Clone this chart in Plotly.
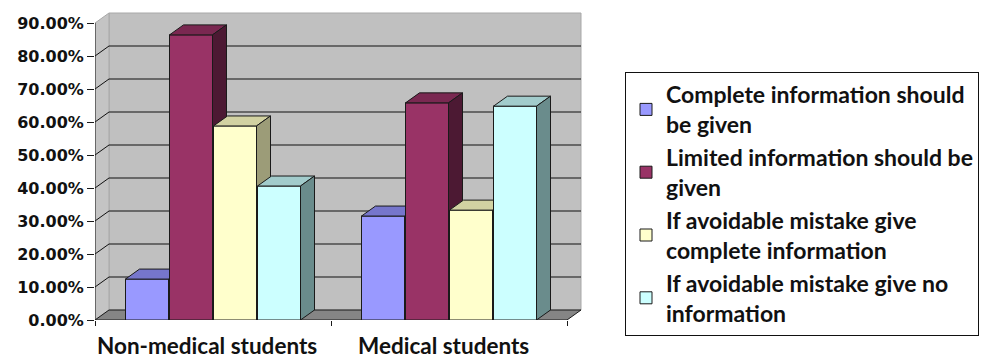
import plotly.graph_objects as go

# ---------------- data ----------------
categories = ["Non-medical students", "Medical students"]
series_names = [
    "Complete information should<br>be given",
    "Limited information should be<br>given",
    "If avoidable mistake give<br>complete information",
    "If avoidable mistake give no<br>information",
]
complete_info = [12.4, 31.5]
limited_info = [86.4, 65.8]
avoidable_complete = [58.8, 33.3]
avoidable_none = [40.6, 64.8]
tick_values = [0, 10, 20, 30, 40, 50, 60, 70, 80, 90]
tick_labels = ["0.00%", "10.00%", "20.00%", "30.00%", "40.00%",
               "50.00%", "60.00%", "70.00%", "80.00%", "90.00%"]

series_values = [complete_info, limited_info, avoidable_complete, avoidable_none]

# ---------------- styling ----------------
front_colors = ["#9999FF", "#993366", "#FFFFCC", "#CCFFFF"]
top_colors = ["#7676CC", "#7A2851", "#D2D2A2", "#A2CCCC"]
side_colors = ["#5C5C99", "#4C1933", "#9C9C78", "#6A8C8C"]
edge = "#1a1a1a"

W, H = 985, 358
ML, MT, MB = 95, 12, 38
PX_CAT = 236.0          # pixels per category on the front plane
PX_PCT = 297.0 / 90.0   # pixels per percent
PLOT_W = 491
MR = W - ML - PLOT_W
PLOT_H = H - MT - MB

DX = 14.0 / PX_CAT      # depth offset (x units)
DY = 10.0 / PX_PCT      # depth offset (y units)
BAR_W = 43.0 / PX_CAT
BAR_STEP = 44.0 / PX_CAT
N_CAT = len(categories)
YMAX = tick_values[-1]

x_range = [0, PLOT_W / PX_CAT]
y_range = [0, PLOT_H / PX_PCT]
cat_pos = [c + 0.5 for c in range(N_CAT)]

fig = go.Figure()

# Legend / base bars (front faces) - real bar traces
for i, (name, vals) in enumerate(zip(series_names, series_values)):
    fig.add_trace(go.Bar(
        x=cat_pos, y=vals, width=BAR_W,
        offset=(i - 1.5) * BAR_STEP - BAR_W / 2,
        name=name, legendgroup=f"g{i}",
        marker=dict(color=front_colors[i], line=dict(color=edge, width=1)),
        hoverinfo="skip",
    ))

# 3D faces, drawn in painter's order (left to right)
def poly(xs, ys, color):
    fig.add_trace(go.Scatter(
        x=xs + [xs[0]], y=ys + [ys[0]], mode="lines", fill="toself",
        fillcolor=color, line=dict(color=edge, width=1),
        showlegend=False, hoverinfo="skip",
    ))

for c in range(N_CAT):
    for i, vals in enumerate(series_values):
        v = vals[c]
        x0 = cat_pos[c] + (i - 1.5) * BAR_STEP - BAR_W / 2
        x1 = x0 + BAR_W
        poly([x0, x1, x1, x0], [0, 0, v, v], front_colors[i])
        poly([x0, x1, x1 + DX, x0 + DX], [v, v, v + DY, v + DY], top_colors[i])
        poly([x1, x1 + DX, x1 + DX, x1], [0, DY, v + DY, v], side_colors[i])

# walls, floor, gridlines as shapes below traces
xe = float(N_CAT)
shapes = []
shapes.append(dict(type="path", layer="below", xref="x", yref="y",
                   path=f"M{DX},{DY} L{xe + DX},{DY} L{xe + DX},{YMAX + DY} L{DX},{YMAX + DY} Z",
                   fillcolor="#C0C0C0", line=dict(color="#A8A8A8", width=1)))
shapes.append(dict(type="path", layer="below", xref="x", yref="y",
                   path=f"M0,0 L0,{YMAX} L{DX},{YMAX + DY} L{DX},{DY} Z",
                   fillcolor="#C4C4C4", line=dict(color="#A8A8A8", width=1)))
shapes.append(dict(type="path", layer="below", xref="x", yref="y",
                   path=f"M0,0 L{xe},0 L{xe + DX},{DY} L{DX},{DY} Z",
                   fillcolor="#858585", line=dict(color=edge, width=1)))
for v in tick_values[1:-1]:
    shapes.append(dict(type="path", layer="below", xref="x", yref="y",
                       path=f"M0,{v} L{DX},{v + DY} L{xe + DX},{v + DY}",
                       line=dict(color="#111111", width=1)))
shapes.append(dict(type="line", layer="below", xref="x", yref="y",
                   x0=0, y0=0, x1=0, y1=YMAX, line=dict(color=edge, width=1)))

annotations = []
for c, name in enumerate(categories):
    annotations.append(dict(
        x=cat_pos[c], y=-25.5 / PLOT_H, xref="x", yref="paper", xshift=-6,
        text=name, showarrow=False, xanchor="center", yanchor="middle",
        font=dict(family="Lato", size=22.5, color="#111111", weight="bold"),
    ))

fig.update_layout(
    width=W, height=H,
    margin=dict(l=ML, r=MR, t=MT, b=MB, autoexpand=False),
    paper_bgcolor="white", plot_bgcolor="white",
    barmode="overlay",
    shapes=shapes, annotations=annotations,
    xaxis=dict(range=x_range, tickvals=[0, 1, 2], showticklabels=False,
               ticks="outside", ticklen=5, tickcolor=edge,
               showgrid=False, zeroline=False, showline=False, fixedrange=True),
    yaxis=dict(range=y_range, tickvals=tick_values, ticktext=tick_labels,
               ticks="outside", ticklen=7, tickcolor=edge,
               tickfont=dict(family="DejaVu Sans", size=16, color="#111111", weight="bold"),
               showgrid=False, zeroline=False, showline=False, fixedrange=True),
    legend=dict(
        xref="container", yref="container", x=625 / W, y=1 - 72 / H,
        xanchor="left", yanchor="top",
        bordercolor="#111111", borderwidth=1, bgcolor="white",
        font=dict(family="Lato", size=23, color="#111111", weight="bold"),
        traceorder="grouped", tracegroupgap=0, maxheight=300,
    ),
    showlegend=True,
)

fig.write_html("out.html")
